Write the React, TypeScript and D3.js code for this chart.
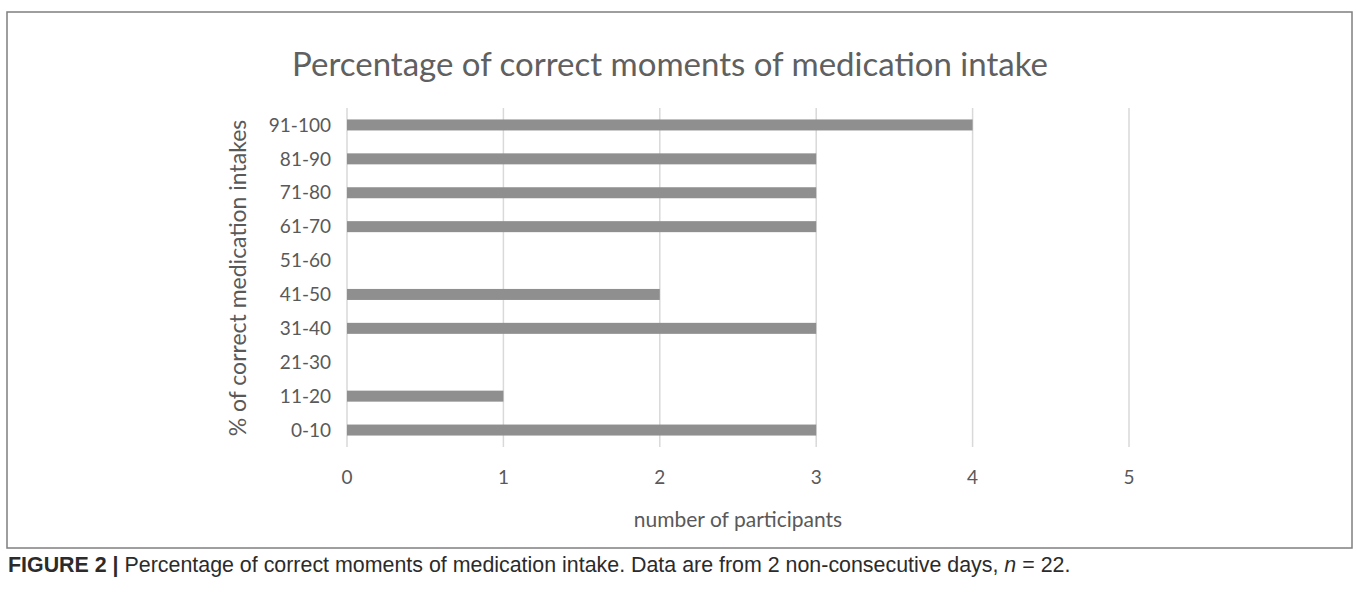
import React, { useEffect, useRef } from 'react';
import * as d3 from 'd3';

const categories = ['0-10', '11-20', '21-30', '31-40', '41-50', '51-60', '61-70', '71-80', '81-90', '91-100'];
const participants = [3, 1, 0, 3, 2, 0, 3, 3, 3, 4];
const xTicks = [0, 1, 2, 3, 4, 5];

const title = 'Percentage of correct moments of medication intake';
const xTitle = 'number of participants';
const yTitle = '% of correct medication intakes';
const captionBold = 'FIGURE 2 |';
const captionText = ' Percentage of correct moments of medication intake. Data are from 2 non-consecutive days, ';

const W = 1357;
const H = 592;
const plot = { left: 347, right: 1129, top: 108, bottom: 447 };
const barThickness = 11;
const textGray = '#595959';
const chartFont = 'Lato, "Open Sans", sans-serif';

export default function App() {
    const ref = useRef<SVGSVGElement | null>(null);

    useEffect(() => {
        const el = ref.current;
        if (!el) return;
        const svg = d3.select(el);
        svg.selectAll('*').remove();

        const x = d3.scaleLinear().domain([0, 5]).range([plot.left, plot.right]);
        const y = d3.scaleBand<string>()
            .domain([...categories].reverse())
            .range([plot.top, plot.bottom])
            .padding(0);

        svg.append('rect')
            .attr('x', 0).attr('y', 0).attr('width', W).attr('height', H)
            .attr('fill', '#fff');

        // figure frame
        svg.append('rect')
            .attr('x', 7).attr('y', 12).attr('width', 1345).attr('height', 536)
            .attr('fill', 'none').attr('stroke', '#7f7f7f').attr('stroke-width', 1.5);

        svg.append('text')
            .attr('x', 670).attr('y', 76)
            .attr('text-anchor', 'middle')
            .attr('font-family', chartFont)
            .attr('font-size', 33)
            .attr('fill', '#606060')
            .text(title);

        // gridlines
        svg.append('g')
            .selectAll('line')
            .data(xTicks)
            .join('line')
            .attr('x1', d => x(d)).attr('x2', d => x(d))
            .attr('y1', plot.top).attr('y2', plot.bottom)
            .attr('stroke', '#d9d9d9').attr('stroke-width', 1.5);

        svg.append('g')
            .selectAll('text')
            .data(xTicks)
            .join('text')
            .attr('x', d => x(d))
            .attr('y', 484)
            .attr('text-anchor', 'middle')
            .attr('font-family', chartFont)
            .attr('font-size', 19)
            .attr('fill', textGray)
            .text(d => String(d));

        svg.append('g')
            .selectAll('rect')
            .data(categories.map((c, i) => ({ c, v: participants[i] })).filter(d => d.v > 0))
            .join('rect')
            .attr('x', x(0))
            .attr('y', d => y(d.c)! + y.bandwidth() / 2 - barThickness / 2)
            .attr('width', d => x(d.v) - x(0))
            .attr('height', barThickness)
            .attr('fill', '#8f8f8f');

        svg.append('g')
            .selectAll('text')
            .data(categories)
            .join('text')
            .attr('x', 331)
            .attr('y', d => y(d)! + y.bandwidth() / 2)
            .attr('dy', '0.35em')
            .attr('text-anchor', 'end')
            .attr('font-family', chartFont)
            .attr('font-size', 19)
            .attr('fill', textGray)
            .text(d => d);

        svg.append('text')
            .attr('transform', `translate(246, 278) rotate(-90)`)
            .attr('text-anchor', 'middle')
            .attr('font-family', chartFont)
            .attr('font-size', 23)
            .attr('fill', textGray)
            .text(yTitle);

        svg.append('text')
            .attr('x', (plot.left + plot.right) / 2)
            .attr('y', 527)
            .attr('text-anchor', 'middle')
            .attr('font-family', chartFont)
            .attr('font-size', 21)
            .attr('fill', textGray)
            .text(xTitle);

        const cap = svg.append('text')
            .attr('x', 8).attr('y', 572)
            .attr('font-family', '"Liberation Sans", Arial, sans-serif')
            .attr('font-size', 21.4)
            .attr('fill', '#2b2b2b');
        cap.append('tspan').attr('font-weight', 'bold').text(captionBold);
        cap.append('tspan').text(captionText);
        cap.append('tspan').attr('font-style', 'italic').text('n');
        cap.append('tspan').text(' = 22.');
    }, []);

    return (
        <div style={{ position: 'fixed', left: 0, top: 0 }}>
            <svg ref={ref} width={W} height={H} style={{ display: 'block' }} />
        </div>
    );
}
